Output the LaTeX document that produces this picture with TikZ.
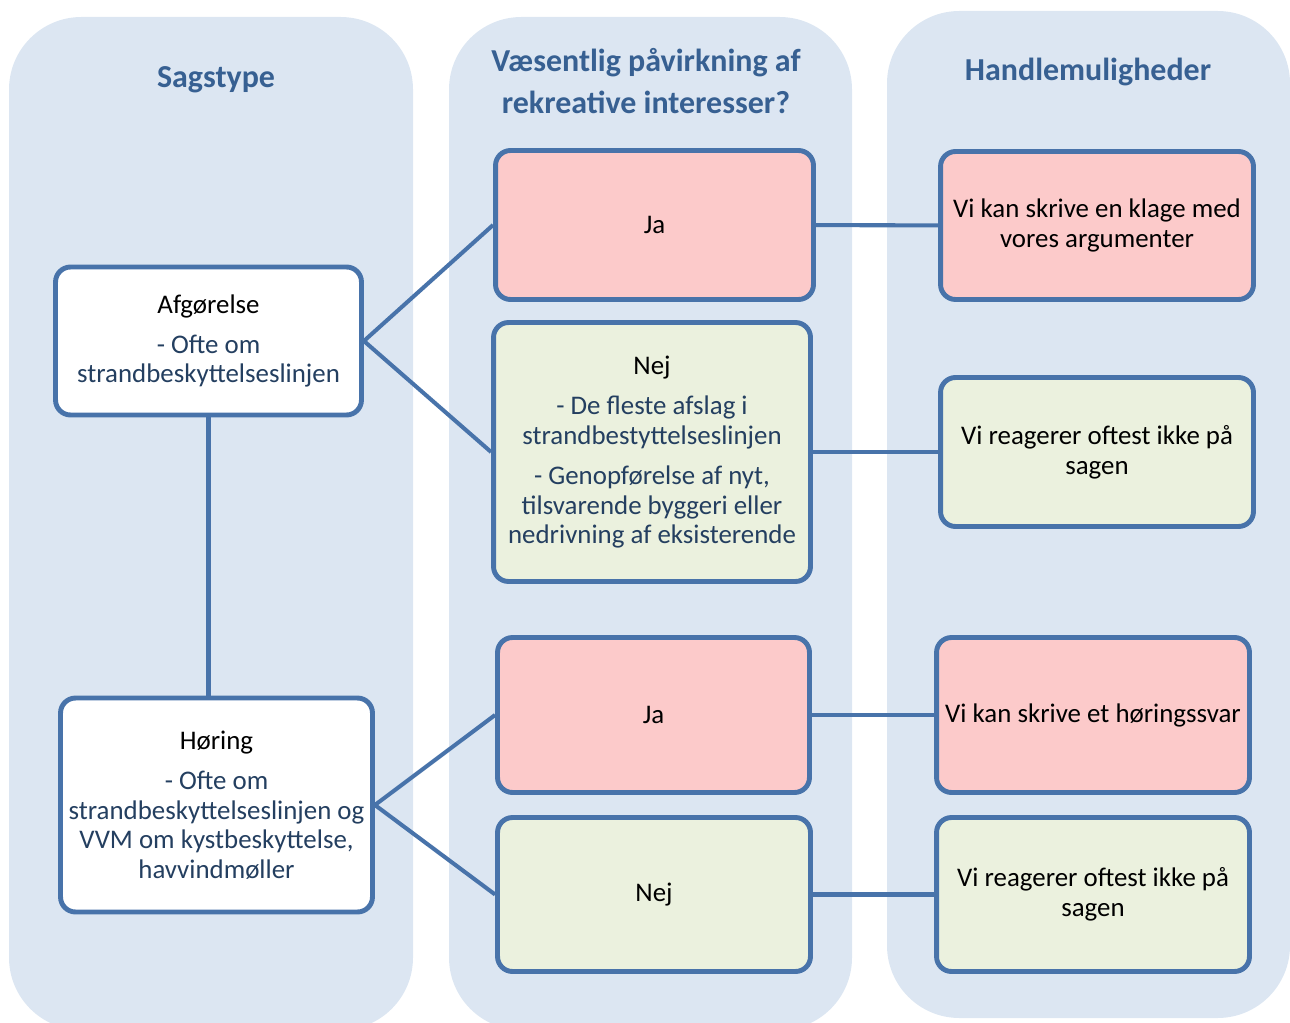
\documentclass[tikz,border=0pt]{standalone}
\usepackage{fontspec}
\setmainfont{Carlito}
\usepackage{tikz}
\definecolor{colbg}{RGB}{220,230,242}
\definecolor{boxline}{RGB}{72,115,170}
\definecolor{jafill}{RGB}{252,202,202}
\definecolor{nejfill}{RGB}{235,241,222}
\definecolor{headtxt}{RGB}{55,96,146}
\definecolor{subtxt}{RGB}{36,63,96}

\begin{document}
\begin{tikzpicture}[x=0.02cm,y=-0.02cm,
		col/.style={fill=colbg,rounded corners=1.45cm},
		head/.style={text=headtxt,font=\fontsize{18.2}{24.4}\selectfont\bfseries,align=center},
		box/.style={draw=boxline,line width=2.8pt,rounded corners=0.3cm,align=center,inner sep=0pt,font=\fontsize{15.3}{16.9}\selectfont},
		sagbox/.style={box,fill=white,text=subtxt},
		jabox/.style={box,fill=jafill},
		nejbox/.style={box,fill=nejfill},
		link/.style={draw=boxline,line width=2.3pt}]
	\useasboundingbox (0,0) rectangle (1290,1023);
	\clip (0,0) rectangle (1290,1023);
	\fill[col] (9,17) rectangle (413,1030);%Sagstype
	\fill[col] (449,17) rectangle (852,1030);%paavirkning
	\fill[col] (887,11) rectangle (1290,1018);%handlemuligheder
	% overskrifter
	\node[head] (hsag) at (216,80) {Sagstype};
	\node[head] (hvaes) at (646,81) {Væsentlig påvirkning af\\rekreative interesser?};
	\node[head] (hhandl) at (1088,72) {Handlemuligheder};
	% sagstype
	\node[sagbox,minimum width=6.12cm,minimum height=2.96cm] (afg) at (208.5,341)
		{\textcolor{black}{Afgørelse}\\[6pt]- Ofte om\\strandbeskyttelseslinjen};
	\node[sagbox,minimum width=6.24cm,minimum height=4.28cm] (hor) at (216.5,805)
		{\textcolor{black}{Høring}\\[6pt]- Ofte om\\strandbeskyttelseslinjen og\\VVM om kystbeskyttelse,\\havvindmøller};
	% ja / nej
	\node[jabox,minimum width=6.36cm,minimum height=2.98cm] (ja1) at (654.5,225) {Ja};
	\node[nejbox,text=subtxt,minimum width=6.34cm,minimum height=5.18cm] (nej1) at (652,452)
		{\textcolor{black}{Nej}\\[6pt]- De fleste afslag i\\strandbestyttelseslinjen\\[6pt]- Genopførelse af nyt,\\tilsvarende byggeri eller\\nedrivning af eksisterende};
	\node[jabox,minimum width=6.24cm,minimum height=3.1cm] (ja2) at (653.5,715) {Ja};
	\node[nejbox,minimum width=6.26cm,minimum height=3.08cm] (nej2) at (654,894.5) {Nej};
	% handlemuligheder
	\node[jabox,minimum width=6.26cm,minimum height=2.96cm] (r1) at (1097,225.5) {Vi kan skrive en klage med\\vores argumenter};
	\node[nejbox,minimum width=6.26cm,minimum height=2.98cm] (r2) at (1097,452) {Vi reagerer oftest ikke på\\sagen};
	\node[jabox,minimum width=6.26cm,minimum height=3.1cm] (r3) at (1093,715) {Vi kan skrive et høringssvar};
	\node[nejbox,minimum width=6.26cm,minimum height=3.08cm] (r4) at (1093,894.5) {Vi reagerer oftest ikke på\\sagen};
	% forbindelser
	\draw[link] (afg.east) -- (ja1.west);
	\draw[link] (afg.east) -- (nej1.west);
	\draw[link] (afg.south) -- (afg.south |- hor.north);
	\draw[link] (hor.east) -- (ja2.west);
	\draw[link] (hor.east) -- (nej2.west);
	\foreach \a/\b in {ja1/r1,nej1/r2,ja2/r3,nej2/r4}
		\draw[link] (\a) -- (\b);
\end{tikzpicture}
\end{document}
